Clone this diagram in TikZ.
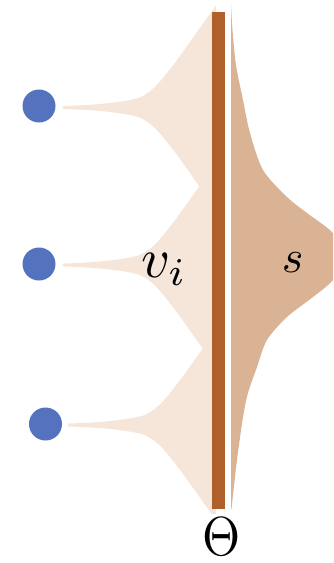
\documentclass[tikz,border=0pt]{standalone}
\usetikzlibrary{calc}
\definecolor{fanfill}{HTML}{F6E6DA}
\definecolor{sfill}{HTML}{DAB395}
\definecolor{barc}{HTML}{B0602A}
\definecolor{dotc}{HTML}{5572BF}
\tikzset{
  dot/.style={circle, fill=dotc, minimum size=33pt, inner sep=0},
  barbox/.style={fill=barc, minimum width=12.5pt, minimum height=497pt, inner sep=0, anchor=north west},
  lbl/.style={inner sep=0},
  pics/fanshape/.style={code={
    \fill[fanfill] (2,-1.5) .. controls (37,-2.5) and (65,-6) .. (77,-10)
      .. controls (92,-17) and (99,-28) .. (114,-47) -- (156,-106) -- (156,106)
      -- (114,47) .. controls (99,28) and (92,17) .. (77,10)
      .. controls (65,6) and (37,2.5) .. (2,1.5)
      .. controls (-1,1.5) and (-1,-1.5) .. (2,-1.5) -- cycle;
  }}
}
\begin{document}
\begin{tikzpicture}[x=1pt,y=-1pt]
\useasboundingbox (0,0) rectangle (333,563);
% dots
\node[dot] (d1) at (39,106) {};
\node[dot] (d2) at (39,264) {};
\node[dot] (d3) at (45.5,424) {};
% fans
\begin{scope}
  \clip (0,4) rectangle (216,513);
  \pic at ($(d1.east)+(7,1.5)$) {fanshape};
  \pic at ($(d2.east)+(7,1)$) {fanshape};
  \pic at ($(d3.east)+(5.5,1)$) {fanshape};
\end{scope}
% bar
\node[barbox] (bar) at (212,12) {};
% right distribution
\begin{scope}
  \clip (0,0) rectangle (333,563);
  \fill[sfill] (231,509) -- (231,4) -- plot[smooth] coordinates {(231,4) (232.5,30) (236,65) (243,100) (250,133) (263,170) (287,197) (307,213) (333,233) (346,256) (333,280) (313,297) (287,317) (267,340) (257,367) (248,393) (243,417) (237,460) (233,495) (231.5,509)} -- cycle;
\end{scope}
% labels
\node[lbl, anchor=base west, scale=5.6] (vi) at (140,277) {$v_i$};
\node[lbl, anchor=base west, scale=4.6] (s) at (281,272) {$s$};
\node[lbl, anchor=base, xscale=4.9, yscale=5.5] (theta) at (221.5,555) {$\Theta$};
\end{tikzpicture}
\end{document}
